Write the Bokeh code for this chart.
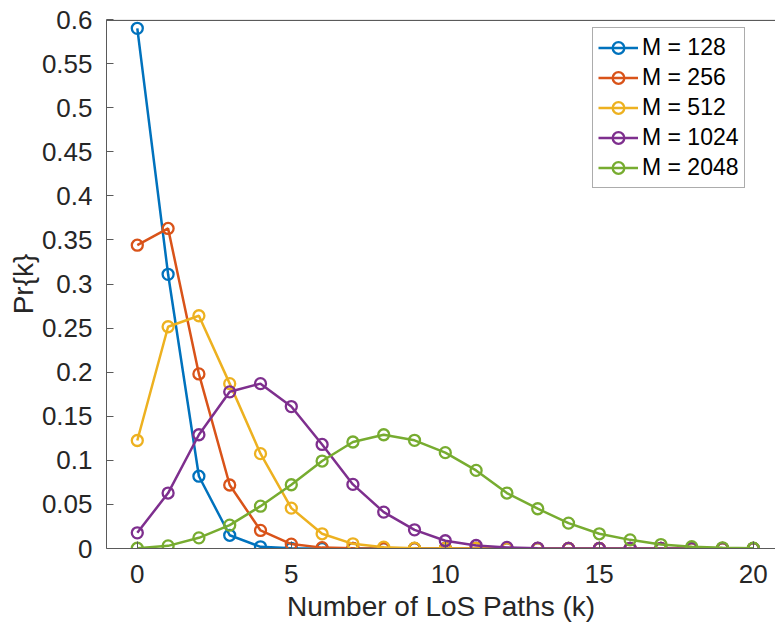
from bokeh.plotting import figure
from bokeh.models import FixedTicker, CustomJSTickFormatter, Range1d, Span
from bokeh.embed import file_html
from bokeh.resources import INLINE

k = list(range(21))
labels = ["M = 128", "M = 256", "M = 512", "M = 1024", "M = 2048"]
colors = ["#0072BD", "#D95319", "#EDB120", "#7E2F8E", "#77AC30"]

pr_128 = [0.590, 0.311, 0.082, 0.0150, 0.0019, 0.0002, 0.0, 0.0, 0.0, 0.0, 0.0,
          0.0, 0.0, 0.0, 0.0, 0.0, 0.0, 0.0, 0.0, 0.0, 0.0]
pr_256 = [0.344, 0.363, 0.198, 0.072, 0.0205, 0.0050, 0.0010, 0.0002, 0.0, 0.0, 0.0,
          0.0, 0.0, 0.0, 0.0, 0.0, 0.0, 0.0, 0.0, 0.0, 0.0]
pr_512 = [0.1225, 0.2515, 0.264, 0.187, 0.1076, 0.0458, 0.0167, 0.0053, 0.0015, 0.0004, 0.0001,
          0.0, 0.0, 0.0, 0.0, 0.0, 0.0, 0.0, 0.0, 0.0, 0.0]
pr_1024 = [0.0178, 0.0629, 0.129, 0.1777, 0.187, 0.161, 0.118, 0.0727, 0.0413, 0.0212, 0.0088,
           0.0034, 0.0012, 0.0004, 0.0001, 0.0, 0.0, 0.0, 0.0, 0.0, 0.0]
pr_2048 = [0.0003, 0.0030, 0.0121, 0.0265, 0.048, 0.0723, 0.0992, 0.1208, 0.129, 0.1227, 0.1087,
           0.0886, 0.0629, 0.0451, 0.0288, 0.0167, 0.0098, 0.0045, 0.0020, 0.0008, 0.0003]
series = [pr_128, pr_256, pr_512, pr_1024, pr_2048]

x_ticks = [0, 5, 10, 15, 20]
y_ticks = [0, 0.05, 0.1, 0.15, 0.2, 0.25, 0.3, 0.35, 0.4, 0.45, 0.5, 0.55, 0.6]
y_max = 0.6

FONT = "Liberation Sans"
TXT = "#262626"
AX = "#5a5a5a"

p = figure(frame_width=669, frame_height=529, output_backend="svg", toolbar_location=None,
           x_range=Range1d(-1, 20.72), y_range=Range1d(0, y_max),
           min_border_left=106, min_border_right=0, min_border_top=19, min_border_bottom=0)
p.outline_line_color = None
p.grid.visible = False
p.background_fill_color = "white"
p.border_fill_color = "white"

# top edge of the axes box, drawn just inside the frame so it is not clipped
p.add_layout(Span(location=y_max * 0.9985, dimension="width", line_color=AX, line_width=1.2))

for vals, lab, col in zip(series, labels, colors):
    p.line(k, vals, line_color=col, line_width=2.5, legend_label=lab)
    p.scatter(k, vals, marker="circle", size=11, fill_color=None, line_color=col,
              line_width=2.3, legend_label=lab)

for ax in (p.xaxis[0], p.yaxis[0]):
    ax.major_tick_in = 7
    ax.major_tick_out = 0
    ax.minor_tick_line_color = None
    ax.axis_line_color = AX
    ax.major_tick_line_color = AX
    ax.major_label_text_font = FONT
    ax.major_label_text_font_size = "26px"
    ax.major_label_text_color = TXT
    ax.axis_label_text_font = FONT
    ax.axis_label_text_font_size = "28px"
    ax.axis_label_text_font_style = "normal"
    ax.axis_label_text_color = TXT

p.xaxis[0].ticker = FixedTicker(ticks=x_ticks)
p.yaxis[0].ticker = FixedTicker(ticks=y_ticks)
p.yaxis[0].formatter = CustomJSTickFormatter(code="return String(Math.round(tick*100)/100);")
p.xaxis[0].axis_label = "Number of LoS Paths (k)"
p.yaxis[0].axis_label = "Pr{k}"
p.xaxis[0].major_label_standoff = 16
p.yaxis[0].major_label_standoff = 14
p.xaxis[0].axis_label_standoff = 5
p.xaxis[0].axis_label_text_line_height = 1.0
p.xaxis[0].major_label_text_line_height = 1.0
p.yaxis[0].axis_label_standoff = 0

leg = p.legend[0]
leg.location = (486, 360)
leg.label_text_font = FONT
leg.label_text_font_size = "23px"
leg.label_text_color = "#000000"
leg.border_line_color = AX
leg.border_line_width = 1
leg.background_fill_color = "white"
leg.background_fill_alpha = 1.0
leg.padding = 5
leg.margin = 0
leg.spacing = 1
leg.glyph_width = 40
leg.glyph_height = 29
leg.label_height = 29
leg.label_standoff = 4

open("out.html", "w").write(file_html(p, INLINE))
